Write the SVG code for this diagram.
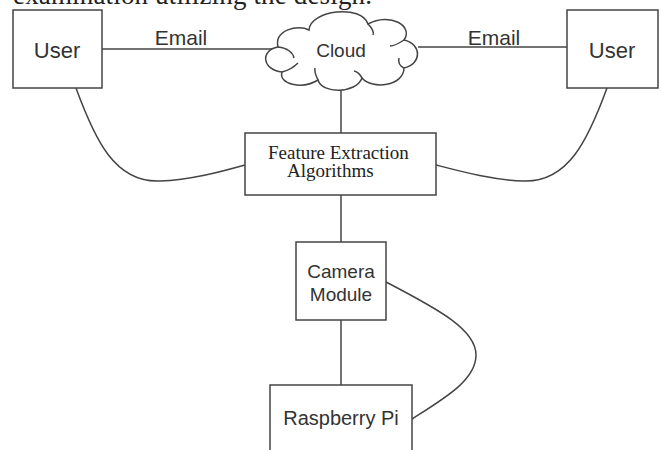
<svg xmlns="http://www.w3.org/2000/svg" width="661" height="450" viewBox="0 0 661 450">
<style>
.box{fill:#fff;stroke:#444;stroke-width:1.5}
.ln{fill:none;stroke:#444;stroke-width:1.5}
.sans{font-family:"Liberation Sans",Arial,sans-serif;fill:#333;text-anchor:middle}
.serif{font-family:"Liberation Serif","Times New Roman",serif;fill:#222}
</style>
<rect width="661" height="450" fill="#fff"/>
<text class="serif" x="13" y="4" font-size="27" textLength="359">examination utilizing the design.</text>
<g id="connectors">
<line class="ln" x1="102" y1="49" x2="275" y2="49"/>
<line class="ln" x1="418" y1="47" x2="567" y2="47"/>
<line class="ln" x1="341" y1="88" x2="341" y2="133"/>
<line class="ln" x1="341" y1="195" x2="341" y2="242"/>
<line class="ln" x1="341" y1="320" x2="341" y2="385"/>
<path class="ln" d="M76,88 C95,140 115,183 160,181 C190,180 220,172 245,165"/>
<path class="ln" d="M607,88 C588,140 568,183 523,181 C493,180 463,172 436,165"/>
<path class="ln" d="M386,282 C440,310 476,330 476,355 C476,380 445,398 412,419"/>
<text class="sans" x="181" y="45" font-size="21">Email</text>
<text class="sans" x="494" y="45" font-size="21">Email</text>
</g>
<g id="user-left">
<rect class="box" x="13" y="10" width="89" height="78"/>
<text class="sans" x="57" y="58" font-size="22">User</text>
</g>
<g id="user-right">
<rect class="box" x="567" y="10" width="91" height="78"/>
<text class="sans" x="612" y="58" font-size="22">User</text>
</g>
<g id="cloud">
<path class="box" d="M309,30 C310,10 362,4 368,24 C390,12 414,26 404,40 C422,44 422,64 404,68 C404,86 372,90 362,78 C356,94 322,94 318,80 C302,90 278,84 282,72 C262,70 260,50 278,47 C274,30 298,24 309,30 Z"/>
<path class="ln" d="M278,47 C288,48 293,53 294,58 M282,72 C290,70 295,66 298,63 M318,80 C316,76 314,72 315,68 M362,78 C360,74 358,72 354,71 M404,68 C400,66 398,62 399,58 M368,24 C372,28 374,32 373,35 M404,40 C398,44 394,46 390,46"/>
<text class="sans" x="341" y="57" font-size="19">Cloud</text>
</g>
<g id="feature">
<rect class="box" x="245" y="133" width="191" height="62"/>
<text class="serif" x="268" y="159" font-size="19">Feature Extraction</text>
<text class="serif" x="287" y="177" font-size="19">Algorithms</text>
</g>
<g id="camera">
<rect class="box" x="296" y="242" width="90" height="78"/>
<text class="sans" x="341" y="278" font-size="19">Camera</text>
<text class="sans" x="341" y="301" font-size="19">Module</text>
</g>
<g id="raspberry">
<rect class="box" x="270" y="385" width="142" height="80"/>
<text class="sans" x="341" y="425" font-size="20">Raspberry Pi</text>
</g>
</svg>
